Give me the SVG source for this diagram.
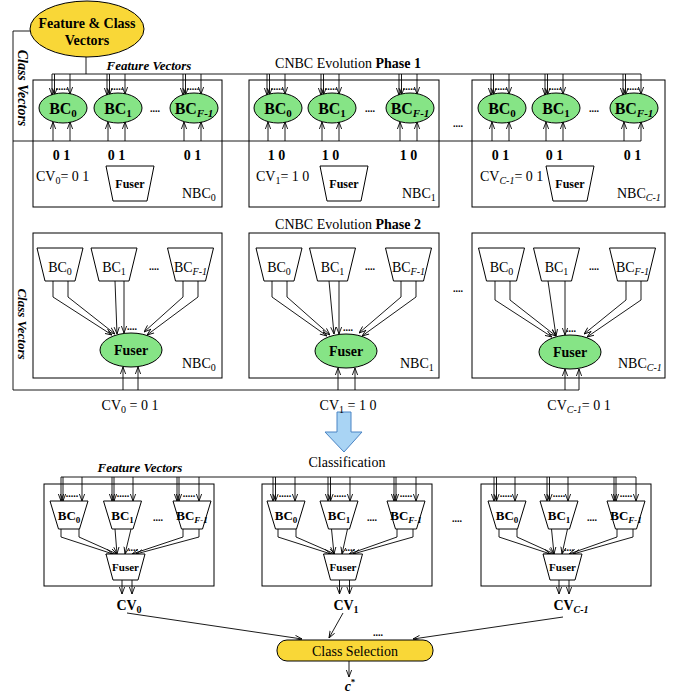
<svg xmlns="http://www.w3.org/2000/svg" width="687" height="695" viewBox="0 0 687 695">
<style>
text{font-family:"Liberation Serif","Times New Roman",serif;fill:#000}
.box{fill:none;stroke:#000;stroke-width:1}
.ln{fill:none;stroke:#000;stroke-width:0.9}
.ar{marker-end:url(#ah)}
.gr{fill:#86e486;stroke:#000;stroke-width:1}
.tr{fill:#fff;stroke:#000;stroke-width:1}
.yl{fill:#f9d737;stroke:#000;stroke-width:1}
.b16{font-size:16px;font-weight:bold;text-anchor:middle}
.r14{font-size:14px;text-anchor:middle}
.b14{font-size:14px;font-weight:bold;text-anchor:middle}
.b13{font-size:13px;font-weight:bold;text-anchor:middle}
.b12{font-size:12px;font-weight:bold;text-anchor:middle}
.b11{font-size:11px;font-weight:bold;text-anchor:middle}
.lab{font-size:14px}
.dots{font-size:10px;font-weight:bold;text-anchor:middle}
.bi{font-weight:bold;font-style:italic}
.it{font-style:italic}
</style>
<defs>
<marker id="ah" viewBox="0 0 8 8" refX="8" refY="4" markerWidth="7" markerHeight="7" orient="auto" markerUnits="userSpaceOnUse"><path d="M0,1 L8,4 L0,7" fill="none" stroke="#000" stroke-width="1"/></marker>
</defs>

<!-- source node -->
<g id="fcv">
<ellipse class="yl" cx="87" cy="29" rx="57" ry="28"/>
<text class="b14" x="87" y="28">Feature &amp; Class</text>
<text class="b14" x="87" y="45">Vectors</text>
</g>

<!-- labels -->
<text class="bi" font-size="14" text-anchor="middle" transform="rotate(90 18 88)" x="18" y="88">Class Vectors</text>
<text class="bi" font-size="13" text-anchor="middle" transform="rotate(90 18 324)" x="18" y="324">Class Vectors</text>
<text class="bi" font-size="13" text-anchor="middle" x="149" y="70">Feature Vectors</text>
<text class="r14" x="348" y="68">CNBC Evolution <tspan font-weight="bold">  Phase 1</tspan></text>
<text class="r14" x="348" y="229">CNBC Evolution <tspan font-weight="bold">  Phase 2</tspan></text>
<text class="bi" font-size="13" text-anchor="middle" x="140" y="472">Feature Vectors</text>
<text class="r14" x="347" y="467">Classification</text>
<text class="dots" x="458" y="127">....</text>
<text class="dots" x="458" y="292">....</text>
<text class="dots" x="457" y="522">....</text>

<!-- connectors -->
<g id="connectors">
<path class="ln" d="M86,57 V74 M52,74 H641 M30,31 H13 V390 H579 M13,141 H641"/>
<!-- phase 1 down arrows -->
<path class="ln ar" d="M52,74 V95"/><path class="ln ar" d="M54.5,74 V95"/><path class="ln ar" d="M70,74 V94"/>
<path class="ln ar" d="M107,74 V95"/><path class="ln ar" d="M109.5,74 V95"/><path class="ln ar" d="M125,74 V94"/>
<path class="ln ar" d="M183,74 V95"/><path class="ln ar" d="M185.5,74 V95"/><path class="ln ar" d="M201,74 V94"/>
<path class="ln ar" d="M267,74 V95"/><path class="ln ar" d="M269.5,74 V95"/><path class="ln ar" d="M285,74 V94"/>
<path class="ln ar" d="M321,74 V95"/><path class="ln ar" d="M323.5,74 V95"/><path class="ln ar" d="M339,74 V94"/>
<path class="ln ar" d="M399,74 V95"/><path class="ln ar" d="M401.5,74 V95"/><path class="ln ar" d="M417,74 V94"/>
<path class="ln ar" d="M491,74 V95"/><path class="ln ar" d="M493.5,74 V95"/><path class="ln ar" d="M509,74 V94"/>
<path class="ln ar" d="M545,74 V95"/><path class="ln ar" d="M547.5,74 V95"/><path class="ln ar" d="M563,74 V94"/>
<path class="ln ar" d="M623,74 V95"/><path class="ln ar" d="M625.5,74 V95"/><path class="ln ar" d="M641,74 V94"/>
<!-- phase 1 up arrows -->
<path class="ln ar" d="M53,141 V122"/><path class="ln ar" d="M70,141 V122"/>
<path class="ln ar" d="M108,141 V122"/><path class="ln ar" d="M125,141 V122"/>
<path class="ln ar" d="M184,141 V122"/><path class="ln ar" d="M201,141 V122"/>
<path class="ln ar" d="M268,141 V122"/><path class="ln ar" d="M285,141 V122"/>
<path class="ln ar" d="M322,141 V122"/><path class="ln ar" d="M339,141 V122"/>
<path class="ln ar" d="M400,141 V122"/><path class="ln ar" d="M417,141 V122"/>
<path class="ln ar" d="M492,141 V122"/><path class="ln ar" d="M509,141 V122"/>
<path class="ln ar" d="M546,141 V122"/><path class="ln ar" d="M563,141 V122"/>
<path class="ln ar" d="M624,141 V122"/><path class="ln ar" d="M641,141 V122"/>
<!-- phase 2 -->
<path class="ln ar" d="M53,281 V297 L112,335"/><path class="ln ar" d="M68,281 V297 L115,334"/>
<path class="ln ar" d="M115,281 L117,334"/><path class="ln ar" d="M124,281 L124,333"/>
<path class="ln ar" d="M183,281 V297 L144,332"/><path class="ln ar" d="M198,281 V297 L147,335"/>
<path class="ln ar" d="M272,281 V297 L327,336"/><path class="ln ar" d="M287,281 V297 L330,335"/>
<path class="ln ar" d="M329,281 L334,334"/><path class="ln ar" d="M339,281 L339,334"/>
<path class="ln ar" d="M401,281 V297 L359,333"/><path class="ln ar" d="M416,281 V297 L362,336"/>
<path class="ln ar" d="M495,281 V300 L552,337"/><path class="ln ar" d="M510,281 V300 L556,336"/>
<path class="ln ar" d="M548,281 L556,336"/><path class="ln ar" d="M565,281 L565,335"/>
<path class="ln ar" d="M626,281 V300 L584,334"/><path class="ln ar" d="M641,281 V300 L587,337"/>
<path class="ln ar" d="M123,390 V367"/><path class="ln ar" d="M138,390 V367"/>
<path class="ln ar" d="M338,390 V368"/><path class="ln ar" d="M355,390 V368"/>
<path class="ln ar" d="M565,390 V369"/><path class="ln ar" d="M579,390 V369"/>
<!-- classification -->
<path class="ln" d="M61,477 H636"/>
<path class="ln ar" d="M61,477 V501"/><path class="ln ar" d="M63,477 V501"/><path class="ln ar" d="M82,477 V501"/>
<path class="ln ar" d="M112,477 V501"/><path class="ln ar" d="M114,477 V501"/><path class="ln ar" d="M133,477 V501"/>
<path class="ln ar" d="M177,477 V501"/><path class="ln ar" d="M179,477 V501"/><path class="ln ar" d="M199,477 V501"/>
<path class="ln ar" d="M273,477 V501"/><path class="ln ar" d="M275.5,477 V501"/><path class="ln ar" d="M295,477 V501"/>
<path class="ln ar" d="M328,477 V501"/><path class="ln ar" d="M330.5,477 V501"/><path class="ln ar" d="M350,477 V501"/>
<path class="ln ar" d="M394,477 V501"/><path class="ln ar" d="M396,477 V501"/><path class="ln ar" d="M416,477 V501"/>
<path class="ln ar" d="M494,477 V501"/><path class="ln ar" d="M496.5,477 V501"/><path class="ln ar" d="M515,477 V501"/>
<path class="ln ar" d="M547,477 V501"/><path class="ln ar" d="M549.5,477 V501"/><path class="ln ar" d="M568,477 V501"/>
<path class="ln ar" d="M614,477 V501"/><path class="ln ar" d="M616,477 V501"/><path class="ln ar" d="M636,477 V501"/>
<path class="ln ar" d="M61,529 V537 L113,554"/><path class="ln ar" d="M79,529 V537 L117,554"/>
<path class="ln ar" d="M115,529 L117,554"/><path class="ln ar" d="M131,529 L125,554"/>
<path class="ln ar" d="M183,529 V537 L132,554"/><path class="ln ar" d="M199,529 V537 L136,554"/>
<path class="ln ar" d="M278,529 V537 L331,554"/><path class="ln ar" d="M296,529 V537 L335,554"/>
<path class="ln ar" d="M331.5,529 L334,554"/><path class="ln ar" d="M347.5,529 L342,554"/>
<path class="ln ar" d="M397,529 V537 L349,554"/><path class="ln ar" d="M413,529 V537 L353,554"/>
<path class="ln ar" d="M499,529 V537 L550.5,554"/><path class="ln ar" d="M517,529 V537 L554.5,554"/>
<path class="ln ar" d="M551.5,529 L554,554"/><path class="ln ar" d="M567.5,529 L562,554"/>
<path class="ln ar" d="M617,529 V537 L569,554"/><path class="ln ar" d="M633,529 V537 L573,554"/>
<path class="ln ar" d="M122,580 V594"/><path class="ln ar" d="M132,580 V594"/>
<path class="ln ar" d="M339.5,580 V594"/><path class="ln ar" d="M349.5,580 V594"/>
<path class="ln ar" d="M559,580 V594"/><path class="ln ar" d="M569,580 V594"/>
<path class="ln ar" d="M127,613 L302,639"/>
<path class="ln ar" d="M343,613 L329,638"/>
<path class="ln ar" d="M563,617 L413,639"/>
<path class="ln ar" d="M349,661 V677"/>
</g>

<!-- blue arrow -->
<path d="M337,412 H351 V432 H362 L344,452 L325,432 H337 Z" fill="#a9d4f4" stroke="#4a84c4" stroke-width="1"/>

<!-- Phase 1 NBC0 -->
<g id="p1-nbc0">
<rect class="box" x="33" y="80" width="189" height="127"/>
<ellipse class="gr" cx="63" cy="108" rx="24" ry="15"/>
<ellipse class="gr" cx="118" cy="108" rx="24" ry="15"/>
<ellipse class="gr" cx="194" cy="108" rx="24" ry="15"/>
<text class="b16" x="63" y="114">BC<tspan font-size="11" dy="3">0</tspan></text>
<text class="b16" x="118" y="114">BC<tspan font-size="11" dy="3">1</tspan></text>
<text class="b16" x="194" y="114">BC<tspan font-size="11" dy="3" class="it">F-1</tspan></text>
<text class="dots" x="62" y="90">.....</text><text class="dots" x="117" y="90">.....</text><text class="dots" x="193" y="90">.....</text>
<text class="dots" x="155" y="112">....</text>
<text class="b14" x="61.5" y="160">0 1</text><text class="b14" x="116.5" y="160">0 1</text><text class="b14" x="192.5" y="160">0 1</text>
<text class="lab" x="36" y="181">CV<tspan font-size="10" dy="3">0</tspan><tspan dy="-3">= 0 1</tspan></text>
<path class="tr" d="M106,166 H154 L147,201 H113 Z"/>
<text class="b12" x="130" y="188">Fuser</text>
<text class="lab" x="182" y="198">NBC<tspan font-size="10" dy="3">0</tspan></text>
</g>

<!-- Phase 1 NBC1 -->
<g id="p1-nbc1">
<rect class="box" x="249" y="80" width="190" height="127"/>
<ellipse class="gr" cx="278" cy="108" rx="24" ry="15"/>
<ellipse class="gr" cx="332" cy="108" rx="24" ry="15"/>
<ellipse class="gr" cx="410" cy="108" rx="24" ry="15"/>
<text class="b16" x="278" y="114">BC<tspan font-size="11" dy="3">0</tspan></text>
<text class="b16" x="332" y="114">BC<tspan font-size="11" dy="3">1</tspan></text>
<text class="b16" x="410" y="114">BC<tspan font-size="11" dy="3" class="it">F-1</tspan></text>
<text class="dots" x="277" y="90">.....</text><text class="dots" x="331" y="90">.....</text><text class="dots" x="409" y="90">.....</text>
<text class="dots" x="370" y="112">....</text>
<text class="b14" x="276.5" y="160">1 0</text><text class="b14" x="330.5" y="160">1 0</text><text class="b14" x="408.5" y="160">1 0</text>
<text class="lab" x="256" y="181">CV<tspan font-size="10" dy="3">1</tspan><tspan dy="-3">= 1 0</tspan></text>
<path class="tr" d="M320,166 H368 L361,201 H327 Z"/>
<text class="b12" x="344" y="188">Fuser</text>
<text class="lab" x="402" y="198">NBC<tspan font-size="10" dy="3">1</tspan></text>
</g>

<!-- Phase 1 NBC C-1 -->
<g id="p1-nbcc">
<rect class="box" x="472" y="80" width="193" height="127"/>
<ellipse class="gr" cx="502" cy="108" rx="24" ry="15"/>
<ellipse class="gr" cx="556" cy="108" rx="24" ry="15"/>
<ellipse class="gr" cx="634" cy="108" rx="24" ry="15"/>
<text class="b16" x="502" y="114">BC<tspan font-size="11" dy="3">0</tspan></text>
<text class="b16" x="556" y="114">BC<tspan font-size="11" dy="3">1</tspan></text>
<text class="b16" x="634" y="114">BC<tspan font-size="11" dy="3" class="it">F-1</tspan></text>
<text class="dots" x="501" y="90">.....</text><text class="dots" x="555" y="90">.....</text><text class="dots" x="633" y="90">.....</text>
<text class="dots" x="594" y="112">....</text>
<text class="b14" x="500.5" y="160">0 1</text><text class="b14" x="554.5" y="160">0 1</text><text class="b14" x="632.5" y="160">0 1</text>
<text class="lab" x="480" y="181">CV<tspan font-size="10" dy="3" class="it">C-1</tspan><tspan dy="-3">= 0 1</tspan></text>
<path class="tr" d="M546,166 H594 L587,201 H553 Z"/>
<text class="b12" x="570" y="188">Fuser</text>
<text class="lab" x="617" y="198">NBC<tspan font-size="10" dy="3" class="it">C-1</tspan></text>
</g>

<!-- Phase 2 NBC0 -->
<g id="p2-nbc0">
<rect class="box" x="33" y="233" width="189" height="145"/>
<path class="tr" d="M37,248 H83 L75,281 H45 Z"/>
<path class="tr" d="M91,248 H137 L129,281 H99 Z"/>
<path class="tr" d="M167.5,248 H213.5 L205.5,281 H175.5 Z"/>
<text class="r14" x="60" y="272">BC<tspan font-size="10" dy="3">0</tspan></text>
<text class="r14" x="114" y="272">BC<tspan font-size="10" dy="3">1</tspan></text>
<text class="r14" x="190.5" y="272">BC<tspan font-size="10" dy="3" class="it">F-1</tspan></text>
<text class="dots" x="154" y="270">....</text>
<text class="dots" x="132" y="330">....</text>
<ellipse class="gr" cx="131" cy="350" rx="31" ry="17"/>
<text class="b14" font-size="15" x="131" y="355">Fuser</text>
<text class="lab" x="182" y="368">NBC<tspan font-size="10" dy="3">0</tspan></text>
<text class="r14" x="130" y="410">CV<tspan font-size="10" dy="3">0</tspan><tspan dy="-3"> = 0 1</tspan></text>
</g>

<!-- Phase 2 NBC1 -->
<g id="p2-nbc1">
<rect class="box" x="249" y="233" width="190" height="145"/>
<path class="tr" d="M256,248 H302 L294,281 H264 Z"/>
<path class="tr" d="M309.5,248 H355.5 L347.5,281 H317.5 Z"/>
<path class="tr" d="M385.5,248 H431.5 L423.5,281 H393.5 Z"/>
<text class="r14" x="279" y="272">BC<tspan font-size="10" dy="3">0</tspan></text>
<text class="r14" x="332.5" y="272">BC<tspan font-size="10" dy="3">1</tspan></text>
<text class="r14" x="408.5" y="272">BC<tspan font-size="10" dy="3" class="it">F-1</tspan></text>
<text class="dots" x="370" y="270">....</text>
<text class="dots" x="348" y="331">....</text>
<ellipse class="gr" cx="346" cy="351" rx="31" ry="17"/>
<text class="b14" font-size="15" x="346" y="356">Fuser</text>
<text class="lab" x="400" y="368">NBC<tspan font-size="10" dy="3">1</tspan></text>
<text class="r14" x="348" y="410">CV<tspan font-size="10" dy="3">1</tspan><tspan dy="-3"> = 1 0</tspan></text>
</g>

<!-- Phase 2 NBC C-1 -->
<g id="p2-nbcc">
<rect class="box" x="472" y="233" width="193" height="145"/>
<path class="tr" d="M478.5,248 H524.5 L516.5,281 H486.5 Z"/>
<path class="tr" d="M533.5,248 H579.5 L571.5,281 H541.5 Z"/>
<path class="tr" d="M609.5,248 H655.5 L647.5,281 H617.5 Z"/>
<text class="r14" x="501.5" y="272">BC<tspan font-size="10" dy="3">0</tspan></text>
<text class="r14" x="556.5" y="272">BC<tspan font-size="10" dy="3">1</tspan></text>
<text class="r14" x="632.5" y="272">BC<tspan font-size="10" dy="3" class="it">F-1</tspan></text>
<text class="dots" x="594" y="270">....</text>
<text class="dots" x="571" y="332">....</text>
<ellipse class="gr" cx="570" cy="352" rx="31" ry="17"/>
<text class="b14" font-size="15" x="570" y="357">Fuser</text>
<text class="lab" x="618" y="368">NBC<tspan font-size="10" dy="3" class="it">C-1</tspan></text>
<text class="r14" x="579" y="410">CV<tspan font-size="10" dy="3" class="it">C-1</tspan><tspan dy="-3">= 0 1</tspan></text>
</g>

<!-- Classification NBC0 -->
<g id="c-nbc0">
<rect class="box" x="44" y="484" width="170" height="102"/>
<path class="tr" d="M50,501 H88 L79.5,529 H58.5 Z"/>
<path class="tr" d="M103.5,501 H141.5 L133,529 H112 Z"/>
<path class="tr" d="M173,501 H211 L202.5,529 H181.5 Z"/>
<text class="b13" x="69" y="520">BC<tspan font-size="9" dy="3">0</tspan></text>
<text class="b13" x="122.5" y="520">BC<tspan font-size="9" dy="3">1</tspan></text>
<text class="b13" x="192" y="520">BC<tspan font-size="9" dy="3" class="it">F-1</tspan></text>
<text class="dots" font-size="9" x="72" y="497">.....</text><text class="dots" font-size="9" x="123" y="497">.....</text><text class="dots" font-size="9" x="189" y="497">.....</text>
<text class="dots" x="158" y="521">....</text>
<text class="dots" font-size="9" x="133" y="551">....</text>
<path class="tr" d="M106,554 H145 L138,580 H113 Z"/>
<text class="b11" x="125.5" y="571">Fuser</text>
</g>
<text class="b14" x="129" y="610">CV<tspan font-size="10" dy="3">0</tspan></text>

<!-- Classification NBC1 -->
<g id="c-nbc1">
<rect class="box" x="262" y="484" width="170" height="102"/>
<path class="tr" d="M267,501 H305 L296.5,529 H275.5 Z"/>
<path class="tr" d="M320,501 H358 L349.5,529 H328.5 Z"/>
<path class="tr" d="M387,501 H425 L416.5,529 H395.5 Z"/>
<text class="b13" x="286" y="520">BC<tspan font-size="9" dy="3">0</tspan></text>
<text class="b13" x="339" y="520">BC<tspan font-size="9" dy="3">1</tspan></text>
<text class="b13" x="406" y="520">BC<tspan font-size="9" dy="3" class="it">F-1</tspan></text>
<text class="dots" font-size="9" x="285" y="497">.....</text><text class="dots" font-size="9" x="340" y="497">.....</text><text class="dots" font-size="9" x="406" y="497">.....</text>
<text class="dots" x="372" y="521">....</text>
<text class="dots" font-size="9" x="350" y="551">....</text>
<path class="tr" d="M323.5,554 H362.5 L355.5,580 H330.5 Z"/>
<text class="b11" x="343" y="571">Fuser</text>
</g>
<text class="b14" x="346" y="610">CV<tspan font-size="10" dy="3">1</tspan></text>

<!-- Classification NBC C-1 -->
<g id="c-nbcc">
<rect class="box" x="481" y="484" width="170" height="102"/>
<path class="tr" d="M488,501 H526 L517.5,529 H496.5 Z"/>
<path class="tr" d="M540,501 H578 L569.5,529 H548.5 Z"/>
<path class="tr" d="M607,501 H645 L636.5,529 H615.5 Z"/>
<text class="b13" x="507" y="520">BC<tspan font-size="9" dy="3">0</tspan></text>
<text class="b13" x="559" y="520">BC<tspan font-size="9" dy="3">1</tspan></text>
<text class="b13" x="626" y="520">BC<tspan font-size="9" dy="3" class="it">F-1</tspan></text>
<text class="dots" font-size="9" x="506" y="497">.....</text><text class="dots" font-size="9" x="559" y="497">.....</text><text class="dots" font-size="9" x="626" y="497">.....</text>
<text class="dots" x="592" y="521">....</text>
<text class="dots" font-size="9" x="569" y="551">....</text>
<path class="tr" d="M543,554 H582 L575,580 H550 Z"/>
<text class="b11" x="562.5" y="571">Fuser</text>
</g>
<text class="b14" x="571" y="610">CV<tspan font-size="10" dy="3" class="it">C-1</tspan></text>

<!-- Class selection -->
<g id="class-selection">
<rect class="yl" x="277" y="640" width="156" height="21" rx="10" ry="10"/>
<text class="r14" x="355" y="656">Class Selection</text>
</g>
<text class="dots" x="378" y="636">....</text>
<text class="b14" x="350" y="691"><tspan class="bi">c</tspan><tspan font-size="9" dy="-6">*</tspan></text>
</svg>
